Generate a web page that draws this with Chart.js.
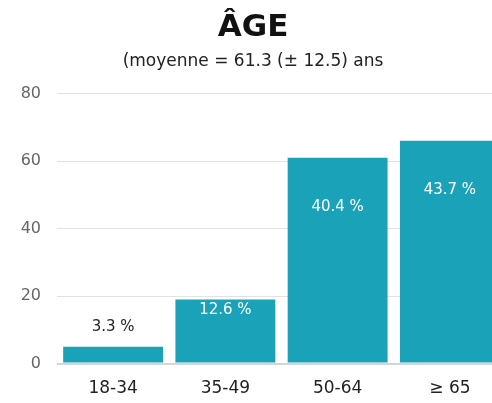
<!DOCTYPE html>
<html>
<head>
<meta charset="utf-8">
<script src="https://cdn.jsdelivr.net/npm/chart.js@4"></script>
<style>
	html, body { margin: 0; padding: 0; background: #fff; overflow: hidden; }
	#wrap { width: 526px; height: 403px; }
</style>
</head>
<body>
<div id="wrap"><canvas id="chart-age"></canvas></div>
<script>
"use strict";

const categories = ["18-34", "35-49", "50-64", "\u2265 65"];
const counts = [5, 19, 61, 66];
const percentLabels = ["3.3 %", "12.6 %", "40.4 %", "43.7 %"];
const yTicks = [0, 20, 40, 60, 80];

const barColor = "#19a2b8";
const fontFamily = "'DejaVu Sans', sans-serif";

// draws the percentage labels on or above the bars
const barLabels = {
	id: "barLabels",
	afterDatasetsDraw(chart) {
		const ctx = chart.ctx;
		const meta = chart.getDatasetMeta(0);
		ctx.save();
		ctx.font = "15px " + fontFamily;
		ctx.textAlign = "center";
		ctx.textBaseline = "middle";
		meta.data.forEach((bar, i) => {
			const h = bar.base - bar.y;
			let y, color;
			if (h > 100) {
				y = bar.y + 49;
				color = "#fff";
			} else if (h > 30) {
				y = bar.y + 11;
				color = "#fff";
			} else {
				y = bar.y - 20;
				color = "#222";
			}
			ctx.fillStyle = color;
			ctx.fillText(percentLabels[i], bar.x, y);
		});
		ctx.restore();
	}
};

const ctx = document.getElementById("chart-age").getContext("2d");
new Chart(ctx, {
	type: "bar",
	data: {
		labels: categories,
		datasets: [{
			data: counts,
			backgroundColor: barColor,
			borderWidth: 0,
			barPercentage: 0.89,
			categoryPercentage: 1,
		}],
	},
	options: {
		responsive: true,
		maintainAspectRatio: false,
		animation: false,
		layout: { padding: { top: 9, bottom: -3, right: 20 } },
		plugins: {
			legend: { display: false },
			tooltip: { enabled: false },
			title: {
				display: true,
				text: "\u00c2GE",
				color: "#111",
				font: { family: fontFamily, size: 31, weight: "bold" },
				padding: { top: 0, bottom: 0 },
			},
			subtitle: {
				display: true,
				text: "(moyenne = 61.3 (\u00b1 12.5) ans",
				color: "#222",
				font: { family: fontFamily, size: 17 },
				padding: { top: 5, bottom: 22 },
			},
		},
		scales: {
			x: {
				grid: { display: false },
				border: { display: false },
				ticks: {
					color: "#222",
					font: { family: fontFamily, size: 17 },
					padding: 7,
				},
			},
			y: {
				min: 0,
				max: 80,
				afterFit(scale) { scale.width = 57; },
				afterBuildTicks(scale) { scale.ticks = yTicks.map(v => ({ value: v })); },
				border: { display: false },
				grid: {
					color: (c) => c.tick.value === 0 ? "#d6d6d6" : "#e2e2e2",
					lineWidth: (c) => c.tick.value === 0 ? 2 : 1,
					drawTicks: false,
				},
				ticks: {
					color: "#666",
					font: { family: fontFamily, size: 16 },
					padding: 16,
				},
			},
		},
	},
	plugins: [barLabels],
});
</script>
</body>
</html>
